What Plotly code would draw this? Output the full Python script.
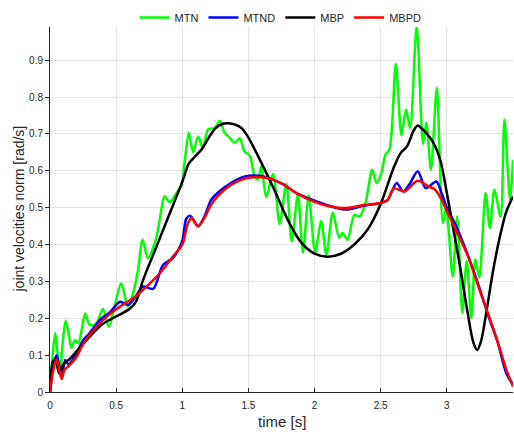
import plotly.graph_objects as go

# MTN (green)
mtn_t = [0.0, 0.02, 0.04, 0.058, 0.075, 0.095, 0.118, 0.14, 0.162, 0.19, 0.215, 0.24, 0.266,
         0.30, 0.34, 0.37, 0.40, 0.445, 0.49, 0.538, 0.589, 0.63, 0.665, 0.70, 0.74, 0.80,
         0.835, 0.866, 0.906, 0.956, 0.994, 1.02, 1.049, 1.082, 1.12, 1.155, 1.195, 1.245,
         1.283, 1.32, 1.358, 1.396, 1.434, 1.47, 1.51, 1.547, 1.572, 1.597, 1.635, 1.686,
         1.736, 1.786, 1.827, 1.874, 1.912, 1.956, 2.004, 2.05, 2.089, 2.138, 2.186, 2.212,
         2.25, 2.30, 2.34, 2.385, 2.435, 2.468, 2.505, 2.536, 2.566, 2.614, 2.657, 2.691,
         2.722, 2.772, 2.82, 2.845, 2.88, 2.924, 2.97, 2.995, 3.044, 3.078, 3.117, 3.15,
         3.185, 3.215, 3.245, 3.293, 3.325, 3.36, 3.406, 3.435, 3.477, 3.5]
mtn_v = [0.0, 0.10, 0.16, 0.10, 0.05, 0.13, 0.193, 0.16, 0.12, 0.141, 0.132, 0.17, 0.213,
         0.182, 0.183, 0.20, 0.226, 0.177, 0.235, 0.295, 0.232, 0.27, 0.33, 0.413, 0.363, 0.413,
         0.48, 0.531, 0.515, 0.54, 0.56, 0.63, 0.703, 0.651, 0.693, 0.662, 0.712, 0.716,
         0.735, 0.703, 0.69, 0.676, 0.688, 0.653, 0.641, 0.585, 0.576, 0.612, 0.528, 0.592,
         0.456, 0.565, 0.408, 0.535, 0.379, 0.533, 0.379, 0.463, 0.372, 0.487, 0.418, 0.431,
         0.413, 0.48, 0.476, 0.512, 0.603, 0.567, 0.594, 0.644, 0.658, 0.89, 0.696, 0.766,
         0.716, 0.993, 0.673, 0.73, 0.603, 0.825, 0.458, 0.50, 0.313, 0.476, 0.214, 0.355,
         0.20, 0.36, 0.31, 0.54, 0.445, 0.549, 0.476, 0.739, 0.522, 0.63]

# MTND (blue)
mtnd_t = [0.0, 0.025, 0.05, 0.07, 0.09, 0.115, 0.14, 0.2, 0.25, 0.3, 0.39, 0.45, 0.53, 0.59,
          0.65, 0.70, 0.78, 0.855, 0.93, 1.0, 1.03, 1.06, 1.12, 1.17, 1.22, 1.32, 1.45, 1.52,
          1.6, 1.67, 1.77, 1.86, 1.99, 2.11, 2.24, 2.37, 2.49, 2.55, 2.62, 2.67, 2.72, 2.78,
          2.84, 2.92, 2.96, 3.0, 3.07, 3.16, 3.23, 3.31, 3.38, 3.45, 3.5]
mtnd_v = [0.0, 0.07, 0.10, 0.07, 0.04, 0.087, 0.075, 0.105, 0.14, 0.16, 0.2, 0.215, 0.245, 0.236,
          0.26, 0.286, 0.28, 0.345, 0.364, 0.41, 0.47, 0.478, 0.45, 0.478, 0.522, 0.555, 0.582, 0.587,
          0.586, 0.578, 0.562, 0.54, 0.52, 0.505, 0.495, 0.505, 0.512, 0.52, 0.567, 0.544, 0.565, 0.599,
          0.553, 0.571, 0.54, 0.50, 0.45, 0.37, 0.30, 0.21, 0.14, 0.05, 0.02]

# MBP (black)
mbp_t = [0.0, 0.02, 0.04, 0.07, 0.1, 0.15, 0.2, 0.3, 0.4, 0.5, 0.6, 0.65, 0.7, 0.8, 0.9, 1.0,
         1.05, 1.1, 1.15, 1.2, 1.25, 1.3, 1.35, 1.4, 1.45, 1.5, 1.6, 1.7, 1.8, 1.9, 2.0, 2.1,
         2.2, 2.3, 2.4, 2.5, 2.6, 2.65, 2.7, 2.75, 2.78, 2.8, 2.85, 2.9, 2.95, 3.0, 3.05, 3.1,
         3.15, 3.2, 3.23, 3.26, 3.3, 3.35, 3.4, 3.45, 3.5]
mbp_v = [0.0, 0.08, 0.09, 0.05, 0.075, 0.09, 0.11, 0.15, 0.185, 0.205, 0.225, 0.245, 0.30, 0.39,
         0.48, 0.57, 0.62, 0.64, 0.66, 0.69, 0.715, 0.727, 0.729, 0.725, 0.715, 0.69, 0.62, 0.545,
         0.465, 0.405, 0.375, 0.367, 0.375, 0.40, 0.44, 0.51, 0.61, 0.648, 0.667, 0.71, 0.723,
         0.718, 0.70, 0.675, 0.63, 0.54, 0.44, 0.34, 0.23, 0.135, 0.114, 0.14, 0.22, 0.33, 0.42,
         0.49, 0.53]

# MBPD (red)
mbpd_t = [0.0, 0.025, 0.05, 0.07, 0.088, 0.11, 0.14, 0.2, 0.25, 0.33, 0.43, 0.53, 0.63, 0.73,
          0.83, 0.93, 1.0, 1.04, 1.07, 1.12, 1.17, 1.22, 1.32, 1.45, 1.57, 1.67, 1.77, 1.86,
          1.99, 2.11, 2.24, 2.37, 2.49, 2.55, 2.6, 2.68, 2.78, 2.86, 2.91, 2.96, 3.0, 3.08,
          3.16, 3.23, 3.31, 3.38, 3.45, 3.5]
mbpd_v = [0.0, 0.06, 0.088, 0.06, 0.035, 0.06, 0.07, 0.095, 0.13, 0.168, 0.205, 0.232, 0.255,
          0.286, 0.322, 0.368, 0.40, 0.455, 0.472, 0.449, 0.474, 0.51, 0.549, 0.576, 0.583, 0.578,
          0.562, 0.54, 0.517, 0.504, 0.499, 0.507, 0.512, 0.52, 0.552, 0.544, 0.573, 0.558, 0.549,
          0.522, 0.49, 0.431, 0.368, 0.295, 0.214, 0.141, 0.06, 0.015]

x_ticks = [0, 0.5, 1, 1.5, 2, 2.5, 3]
x_labels = ["0", "0.5", "1", "1.5", "2", "2.5", "3"]
y_ticks = [0, 0.1, 0.2, 0.3, 0.4, 0.5, 0.6, 0.7, 0.8, 0.9]
y_labels = ["0", "0.1", "0.2", "0.3", "0.4", "0.5", "0.6", "0.7", "0.8", "0.9"]
x_title = "time [s]"
y_title = "joint velocities norm [rad/s]"

series = [
    ("MTN", mtn_t, mtn_v, "#00ff00"),
    ("MTND", mtnd_t, mtnd_v, "#0000ff"),
    ("MBP", mbp_t, mbp_v, "#000000"),
    ("MBPD", mbpd_t, mbpd_v, "#ff0000"),
]

fig = go.Figure()
for name, t, v, c in series:
    fig.add_trace(go.Scatter(x=t, y=v, name=name, mode="lines",
                             line=dict(color=c, width=2.5, shape="spline", smoothing=0.8)))

txt = "#262626"
fig.update_layout(
    width=514, height=434,
    margin=dict(l=50, r=1, t=27, b=42, autoexpand=False),
    paper_bgcolor="white", plot_bgcolor="white",
    font=dict(family="Liberation Sans, Arial, sans-serif", color=txt),
    legend=dict(orientation="h", x=0.498, xanchor="center", y=1.026, yanchor="middle",
                font=dict(size=11, color=txt), bgcolor="rgba(0,0,0,0)",
                itemwidth=30, tracegroupgap=0),
    showlegend=True,
    annotations=[
        dict(text=x_title, xref="paper", yref="paper", x=0.5, y=0, xanchor="center",
             yanchor="top", yshift=-19, showarrow=False, font=dict(size=15, color=txt)),
        dict(text=y_title, xref="paper", yref="paper", x=0, y=0.5, xanchor="center",
             yanchor="middle", xshift=-32, textangle=-90, showarrow=False,
             font=dict(size=14, color=txt)),
    ],
)
fig.update_xaxes(range=[0, 3.5], tickvals=x_ticks, ticktext=x_labels, automargin=False,
                 showgrid=True, gridcolor="#e3e3e3", gridwidth=1,
                 showline=True, linecolor=txt, linewidth=1,
                 ticks="inside", ticklen=4, tickcolor=txt,
                 tickfont=dict(size=10, color=txt), ticklabelstandoff=4,
                 zeroline=False)
fig.update_yaxes(range=[0, 0.99], tickvals=y_ticks, ticktext=y_labels, automargin=False,
                 showgrid=True, gridcolor="#e3e3e3", gridwidth=1,
                 showline=True, linecolor=txt, linewidth=1,
                 ticks="outside", ticklen=4, tickcolor=txt,
                 tickfont=dict(size=10, color=txt),
                 zeroline=False)

fig.write_html("out.html", config={"displayModeBar": False},
               post_script="document.body.style.margin='0px';document.body.style.padding='0px';document.body.style.overflow='hidden';")
